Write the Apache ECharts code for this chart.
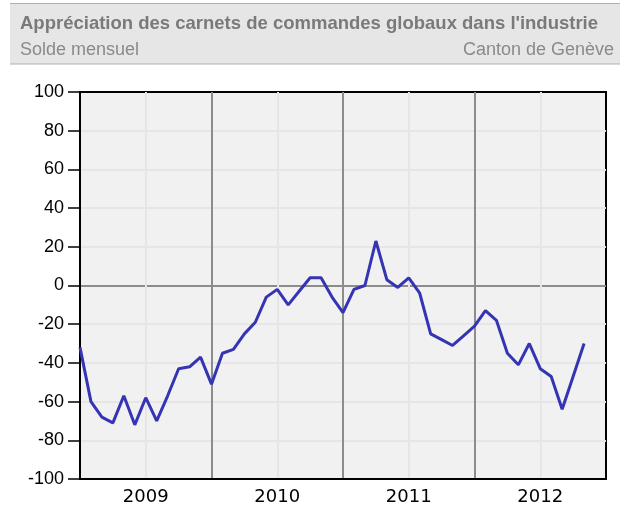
<!DOCTYPE html>
<html>
<head>
<meta charset="utf-8">
<script src="https://cdn.jsdelivr.net/npm/echarts@6/dist/echarts.min.js"></script>
<style>
  html, body { margin: 0; padding: 0; background: #fff; }
  #chart { width: 620px; height: 511px; }
</style>
</head>
<body>
<div id="chart"></div>
<script>
// monthly balance, Jan 2009 .. Nov 2012
var years = [2009, 2010, 2011, 2012];
var values2009 = [-32, -60, -68, -71, -57, -72, -58, -70, -57, -43, -42, -37];
var values2010 = [-51, -35, -33, -25, -19, -6, -2, -10, -3, 4, 4, -6];
var values2011 = [-14, -2, 0, 23, 3, -1, 4, -4, -25, -28, -31, -26];
var values2012 = [-21, -13, -18, -35, -41, -30, -43, -47, -64, -47, -30];
var yTicks = [-100, -80, -60, -40, -20, 0, 20, 40, 60, 80, 100];

var titleText = "Appréciation des carnets de commandes globaux dans l'industrie";
var subLeft = 'Solde mensuel';
var subRight = 'Canton de Genève';

// x = year + (month index) / 12
var seriesData = [];
[values2009, values2010, values2011, values2012].forEach(function (arr, i) {
  arr.forEach(function (v, m) {
    seriesData.push([years[i] + m / 12, v]);
  });
});

var chart = echarts.init(document.getElementById('chart'));
var option = {
  animation: false,
  backgroundColor: '#fff',
  graphic: [
    { type: 'rect', shape: { x: 10, y: 3, width: 620, height: 61 }, style: { fill: '#e6e6e6' }, z: 0 },
    { type: 'line', shape: { x1: 10, y1: 3.5, x2: 620, y2: 3.5 }, style: { stroke: '#b0b0b0', lineWidth: 1 } },
    { type: 'line', shape: { x1: 10, y1: 64, x2: 620, y2: 64 }, style: { stroke: '#b0b0b0', lineWidth: 1 } }
  ],
  title: [
    {
      text: titleText, left: 15, top: 9,
      textStyle: { fontFamily: 'Liberation Sans', fontSize: 18.5, fontWeight: 'bold', color: '#7a7a7a' }
    },
    {
      text: subLeft, left: 15, top: 36,
      textStyle: { fontFamily: 'Liberation Sans', fontSize: 18, fontWeight: 'normal', color: '#8a8a8a' }
    },
    {
      text: subRight, right: 1, top: 36,
      textStyle: { fontFamily: 'Liberation Sans', fontSize: 18, fontWeight: 'normal', color: '#8a8a8a' }
    }
  ],
  grid: {
    left: 80, right: 14, top: 92, bottom: 32,
    show: true, backgroundColor: '#f1f1f1', borderColor: '#000', borderWidth: 2,
    containLabel: false
  },
  xAxis: [
    {
      type: 'value', min: 2009, max: 2013, interval: 0.5,
      axisLine: { show: true, onZero: false, lineStyle: { color: '#000', width: 2 } },
      axisTick: { show: false },
      axisLabel: {
        color: '#000', fontFamily: 'DejaVu Sans', fontSize: 18, margin: 9,
        showMinLabel: false, showMaxLabel: false,
        formatter: function (v) { return (v % 1 === 0.5) ? String(Math.floor(v)) : ''; }
      },
      splitLine: { show: true, showMinLine: false, showMaxLine: false, lineStyle: { color: '#e6e6e6', width: 2 } }
    },
    {
      // year boundaries
      type: 'value', min: 2009, max: 2013, interval: 1, position: 'bottom',
      axisLine: { show: false }, axisTick: { show: false }, axisLabel: { show: false },
      splitLine: { show: true, showMinLine: false, showMaxLine: false, lineStyle: { color: '#8c8c8c', width: 2 } }
    }
  ],
  yAxis: [
    {
      type: 'value', min: yTicks[0], max: yTicks[yTicks.length - 1], interval: 20,
      axisLine: { show: true, onZero: false, lineStyle: { color: '#000', width: 2 } },
      axisTick: { show: true, length: 12, lineStyle: { color: '#000', width: 1.5 } },
      axisLabel: { color: '#000', fontFamily: 'Liberation Sans', fontSize: 18, margin: 16 },
      splitLine: { show: true, showMinLine: false, showMaxLine: false, lineStyle: { color: '#e6e6e6', width: 2 } }
    },
    {
      // zero line
      type: 'value', min: -100, max: 100, interval: 100, position: 'left',
      axisLine: { show: false }, axisTick: { show: false }, axisLabel: { show: false },
      splitLine: { show: true, showMinLine: false, showMaxLine: false, lineStyle: { color: '#8c8c8c', width: 2 } }
    }
  ],
  series: [
    {
      type: 'line',
      data: seriesData,
      showSymbol: false,
      lineStyle: { color: '#3434b4', width: 3 },
      z: 5
    }
  ]
};
chart.setOption(option);
</script>
</body>
</html>
